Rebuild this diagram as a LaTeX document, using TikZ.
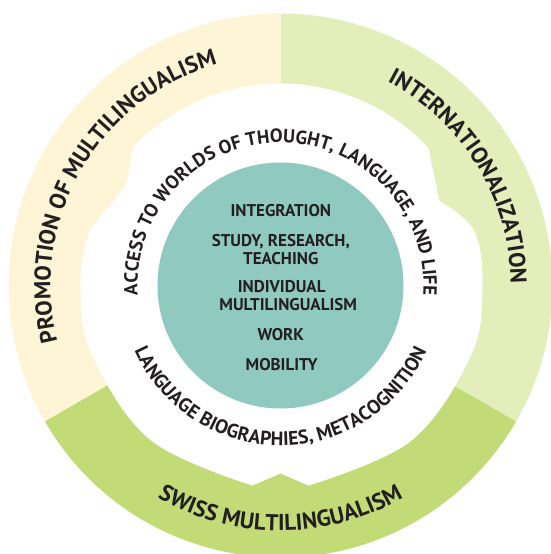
\documentclass[tikz,border=0pt]{standalone}
\usepackage{fontspec}
\setmainfont{PT Sans}
\usetikzlibrary{decorations.text}
\definecolor{ringyellow}{HTML}{FDF5D5}
\definecolor{ringlight}{HTML}{E3EEBB}
\definecolor{ringgreen}{HTML}{C2DB76}
\definecolor{coreteal}{HTML}{8FC9BF}
\definecolor{txt}{HTML}{231F20}
\tikzset{
  coretext/.style={align=center, text=txt, font=\bfseries\fontsize{17}{17.6}\selectfont, inner sep=0pt},
}
\begin{document}
\begin{tikzpicture}
\useasboundingbox (-280.5pt,-268.5pt) rectangle (270.5pt,285.5pt);
\clip (-280.5pt,-268.5pt) rectangle (270.5pt,285.5pt);
% ring sectors
\fill[ringlight] (0,0) -- (-30:272pt) arc[start angle=-30, end angle=90, radius=272pt] -- cycle;
\fill[ringyellow] (0,0) -- (90:272pt) arc[start angle=90, end angle=210, radius=272pt] -- cycle;
\fill[ringgreen] (0,0) -- (210:272pt) arc[start angle=210, end angle=330, radius=272pt] -- cycle;
% white inner region
\fill[white] (43:202pt) arc[start angle=43, end angle=137, radius=202pt]
  -- plot[smooth, tension=0.6] coordinates {(146:185pt) (153:187pt) (160:194pt) (166:199pt) (180:200pt) (200:201pt) (230:202pt) (262:202pt)}
  -- (270:188pt)
  -- plot[smooth, tension=0.6] coordinates {(278:202pt) (310:203pt) (340:203pt) (0:202pt) (16:201pt) (28:180pt)}
  -- cycle;
% core
\fill[coreteal] (0,0) circle[radius=123pt];
% ring texts
\path[decorate, decoration={text along path, text align=center, text color=txt,
  text={|\bfseries\fontsize{23}{23}\selectfont|PROMOTION OF MULTILINGUALISM}}]
  (240:230pt) arc[start angle=240, end angle=60, radius=230pt];
\path[decorate, decoration={text along path, text align=center, text color=txt,
  text={|\bfseries\fontsize{23}{23}\selectfont|INTERNATIONALIZATION}}]
  (121.4:230pt) arc[start angle=121.4, end angle=-58.6, radius=230pt];
\path[decorate, decoration={text along path, text align=center, text color=txt,
  text={|\bfseries\fontsize{23}{23}\selectfont|SWISS MULTILINGUALISM}}]
  (180:245pt) arc[start angle=180, end angle=360, radius=245pt];
% inner texts
\path[decorate, decoration={text along path, text align=center, text color=txt,
  text={|\bfseries\fontsize{19}{19}\selectfont|ACCESS TO WORLDS OF THOUGHT, LANGUAGE, AND LIFE}}]
  (240:143pt) arc[start angle=240, end angle=-60, radius=143pt];
\path[decorate, decoration={text along path, text align=center, text color=txt,
  text={|\bfseries\fontsize{19.5}{19.5}\selectfont|LANGUAGE BIOGRAPHIES, METACOGNITION}}]
  (130:160pt) arc[start angle=130, end angle=410, radius=160pt];
% core texts
\node[coretext] (integ) at (0.3pt,74.8pt) {INTEGRATION};
\node[coretext] (study) at (0.3pt,36pt) {STUDY, RESEARCH,\\TEACHING};
\node[coretext] (indiv) at (1.2pt,-10pt) {INDIVIDUAL\\\hspace*{13pt}MULTILINGUALISM};
\node[coretext] (work) at (0.3pt,-48.8pt) {WORK};
\node[coretext] (mobil) at (1.2pt,-78.8pt) {MOBILITY};
\end{tikzpicture}
\end{document}
